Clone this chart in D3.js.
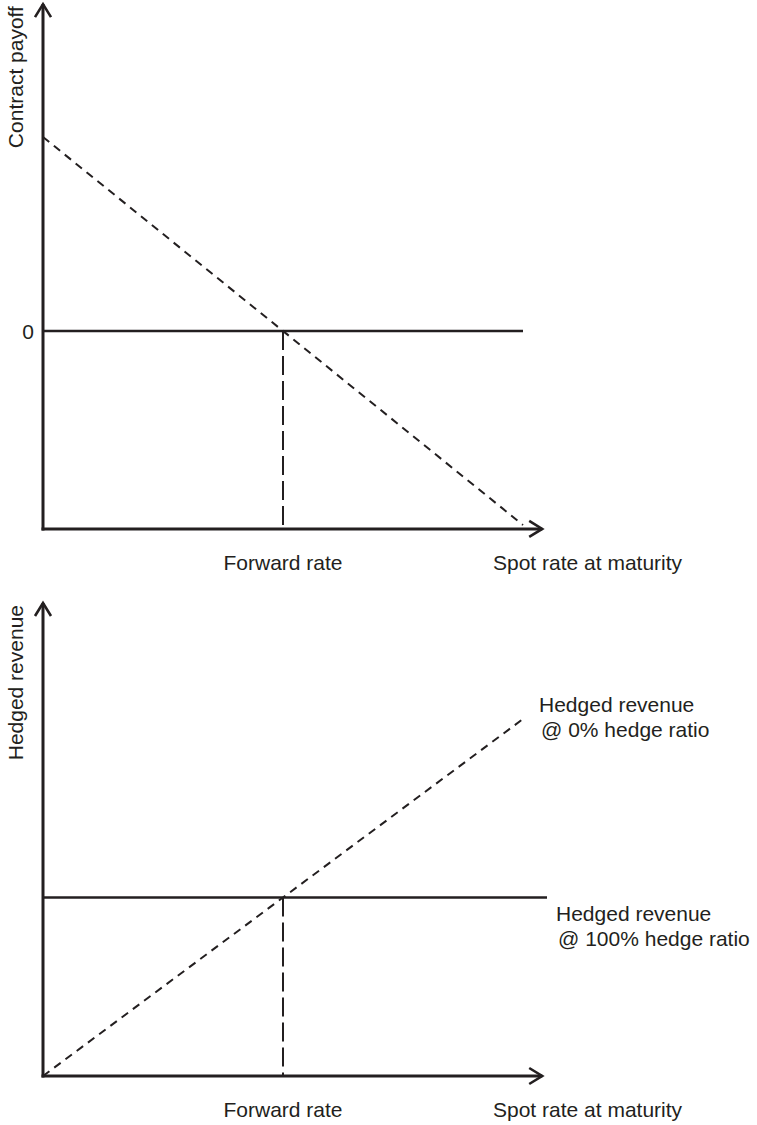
<!DOCTYPE html>
<html>
<head>
<meta charset="utf-8">
<script src="https://cdn.jsdelivr.net/npm/d3@7"></script>
<style>
  html, body { margin: 0; padding: 0; background: #fff; }
  text { font-family: "Liberation Sans", Arial, Helvetica, sans-serif; fill: #231f20; }
</style>
</head>
<body>
<svg id="chart"></svg>
<script>
// spot rate at maturity, in units of the forward rate
const forwardRate = 1;
const spotExtent = [0, 2];

// top panel: contract payoff of a short forward
const payoffSpot = [0, 2];
const payoffValues = [1, -1];
const zeroLineSpot = [0, 2];

// bottom panel: hedged revenue
const unhedgedSpot = [0, 2];          // 0% hedge ratio
const unhedgedRevenue = [0, 2];
const fullHedgeSpot = [0, 2.1];       // 100% hedge ratio
const fullHedgeRevenue = [1, 1];

const xTitle = "Spot rate at maturity";
const forwardLabel = "Forward rate";
const topYTitle = "Contract payoff";
const bottomYTitle = "Hedged revenue";
const zeroTick = "0";
const label0 = ["Hedged revenue", "@ 0% hedge ratio"];
const label100 = ["Hedged revenue", "@ 100% hedge ratio"];

const W = 757, H = 1125;
const ink = "#231f20";

const svg = d3.select("#chart").attr("width", W).attr("height", H);

const x = d3.scaleLinear().domain(spotExtent).range([43, 523]);
const xAxisEnd = 2.08;

const yTop = d3.scaleLinear().domain([-1, 1]).range([525, 137]);
const yTopMin = -1.02, yTopMax = 1.685;

const yBot = d3.scaleLinear().domain([0, 2]).range([1076, 719]);
const yBotMin = 0, yBotMax = 2.65;

const line = (xs, ys, yScale) => d3.line()
    .x(d => x(d[0]))
    .y(d => yScale(d[1]))(d3.zip(xs, ys));

function arrowHead(g, tipX, tipY, dir) {
    const back = 13, half = 8;
    let pts;
    if (dir === "up") pts = [[tipX - half, tipY + back], [tipX, tipY], [tipX + half, tipY + back]];
    else pts = [[tipX - back, tipY - half], [tipX, tipY], [tipX - back, tipY + half]];
    g.append("path")
        .attr("d", d3.line()(pts))
        .attr("fill", "none")
        .attr("stroke", ink)
        .attr("stroke-width", 2.6)
        .attr("stroke-linejoin", "miter");
}

function panel(yScale, yMin, yMax, yTitle) {
    const g = svg.append("g");
    const x0 = x(spotExtent[0]);
    const yBase = yScale(yMin);

    // axes
    g.append("line")
        .attr("x1", x0).attr("x2", x0)
        .attr("y1", yBase + 1.5).attr("y2", yScale(yMax))
        .attr("stroke", ink).attr("stroke-width", 3);
    g.append("line")
        .attr("x1", x0 - 1.5).attr("x2", x(xAxisEnd))
        .attr("y1", yBase).attr("y2", yBase)
        .attr("stroke", ink).attr("stroke-width", 3);
    arrowHead(g, x0, yScale(yMax), "up");
    arrowHead(g, x(xAxisEnd), yBase, "right");

    // axis texts
    g.append("text")
        .attr("x", x(forwardRate)).attr("y", yBase + 41)
        .attr("text-anchor", "middle")
        .attr("font-size", 21)
        .text(forwardLabel);
    g.append("text")
        .attr("x", 493).attr("y", yBase + 41)
        .attr("font-size", 21)
        .text(xTitle);

    g.append("text")
        .attr("transform", `translate(23,${yScale(yMax) + 2}) rotate(-90)`)
        .attr("text-anchor", "end")
        .attr("font-size", 21)
        .text(yTitle);
    return g;
}

// ---- top panel ----
const gTop = panel(yTop, yTopMin, yTopMax, topYTitle);

gTop.append("path")
    .attr("d", line(zeroLineSpot, [0, 0], yTop))
    .attr("stroke", ink).attr("stroke-width", 2.6).attr("fill", "none");

gTop.append("text")
    .attr("x", 34).attr("y", yTop(0))
    .attr("text-anchor", "end")
    .attr("dominant-baseline", "central")
    .attr("font-size", 21)
    .text(zeroTick);

gTop.append("path")
    .attr("d", line([forwardRate, forwardRate], [0, yTopMin], yTop))
    .attr("stroke", ink).attr("stroke-width", 2).attr("stroke-dasharray", "19,6").attr("fill", "none");

gTop.append("path")
    .attr("d", line(payoffSpot, payoffValues, yTop))
    .attr("stroke", ink).attr("stroke-width", 2).attr("stroke-dasharray", "8,6").attr("fill", "none");

// ---- bottom panel ----
const gBot = panel(yBot, yBotMin, yBotMax, bottomYTitle);

gBot.append("path")
    .attr("d", line(fullHedgeSpot, fullHedgeRevenue, yBot))
    .attr("stroke", ink).attr("stroke-width", 2.6).attr("fill", "none");

gBot.append("path")
    .attr("d", line([forwardRate, forwardRate], [fullHedgeRevenue[0], yBotMin], yBot))
    .attr("stroke", ink).attr("stroke-width", 2).attr("stroke-dasharray", "19,6").attr("fill", "none");

gBot.append("path")
    .attr("d", line(unhedgedSpot, unhedgedRevenue, yBot))
    .attr("stroke", ink).attr("stroke-width", 2).attr("stroke-dasharray", "8,6").attr("fill", "none");

function multiLabel(g, lines, lx, ly, indent) {
    const t = g.append("text").attr("font-size", 21);
    lines.forEach((s, i) => {
        t.append("tspan")
            .attr("x", lx + (i ? indent : 0))
            .attr("y", ly + i * 25)
            .text(s);
    });
}

multiLabel(gBot, label0, 539, yBot(unhedgedRevenue[1]) - 7, 2);
multiLabel(gBot, label100, 556, yBot(fullHedgeRevenue[1]) + 23, 2);
</script>
</body>
</html>
